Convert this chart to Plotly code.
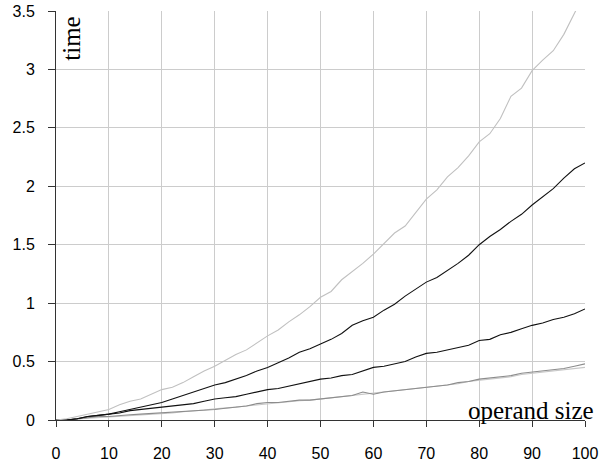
import plotly.graph_objects as go

x_vals = list(range(0, 101, 2))

s_top_light = [0, 0.01, 0.03, 0.05, 0.07, 0.09, 0.13, 0.16, 0.18, 0.22, 0.26, 0.28, 0.32, 0.37, 0.42, 0.46,
               0.51, 0.56, 0.60, 0.66, 0.72, 0.77, 0.84, 0.90, 0.97, 1.05, 1.10, 1.20, 1.27, 1.34, 1.42,
               1.51, 1.60, 1.66, 1.77, 1.89, 1.97, 2.08, 2.16, 2.26, 2.38, 2.45, 2.58, 2.77, 2.84, 2.99,
               3.08, 3.16, 3.30, 3.48, 3.66]
s_black_upper = [0, 0.0, 0.01, 0.03, 0.04, 0.05, 0.07, 0.09, 0.11, 0.13, 0.15, 0.18, 0.21, 0.24, 0.27, 0.30,
                 0.32, 0.35, 0.38, 0.42, 0.45, 0.49, 0.53, 0.58, 0.61, 0.65, 0.69, 0.74, 0.81, 0.85, 0.88,
                 0.94, 0.99, 1.06, 1.12, 1.18, 1.22, 1.28, 1.34, 1.41, 1.50, 1.57, 1.63, 1.70, 1.76, 1.84,
                 1.91, 1.98, 2.07, 2.15, 2.20]
s_black_lower = [0, 0, 0.01, 0.03, 0.04, 0.05, 0.06, 0.08, 0.09, 0.10, 0.11, 0.12, 0.13, 0.14, 0.16, 0.18,
                 0.19, 0.20, 0.22, 0.24, 0.26, 0.27, 0.29, 0.31, 0.33, 0.35, 0.36, 0.38, 0.39, 0.42, 0.45,
                 0.46, 0.48, 0.50, 0.54, 0.57, 0.58, 0.60, 0.62, 0.64, 0.68, 0.69, 0.73, 0.75, 0.78, 0.81,
                 0.83, 0.86, 0.88, 0.91, 0.95]
s_gray = [0, 0, 0.01, 0.02, 0.03, 0.03, 0.04, 0.045, 0.05, 0.055, 0.06, 0.065, 0.07, 0.075, 0.08, 0.09,
          0.10, 0.11, 0.12, 0.14, 0.15, 0.15, 0.16, 0.17, 0.17, 0.18, 0.19, 0.20, 0.21, 0.24, 0.22,
          0.24, 0.25, 0.26, 0.27, 0.28, 0.29, 0.30, 0.32, 0.33, 0.35, 0.36, 0.37, 0.38, 0.40, 0.41,
          0.42, 0.43, 0.44, 0.46, 0.48]
s_light_lower = [0, 0, 0.01, 0.015, 0.02, 0.025, 0.03, 0.04, 0.045, 0.05, 0.055, 0.06, 0.07, 0.075, 0.085, 0.095,
                 0.10, 0.11, 0.12, 0.13, 0.14, 0.15, 0.155, 0.165, 0.17, 0.18, 0.19, 0.20, 0.21, 0.22, 0.23,
                 0.24, 0.25, 0.26, 0.27, 0.28, 0.29, 0.30, 0.31, 0.33, 0.34, 0.35, 0.36, 0.37, 0.39, 0.40,
                 0.41, 0.42, 0.43, 0.44, 0.45]

x_ticks = list(range(0, 101, 10))
y_ticks = [0, 0.5, 1, 1.5, 2, 2.5, 3, 3.5]
y_tick_text = ["0", "0.5", "1", "1.5", "2", "2.5", "3", "3.5"]

series = [
    (s_light_lower, "#c8c8c8"),
    (s_gray, "#8c8c8c"),
    (s_black_lower, "#111111"),
    (s_black_upper, "#111111"),
    (s_top_light, "#c0c0c0"),
]

fig = go.Figure()
for ys, col in series:
    fig.add_trace(go.Scatter(x=x_vals, y=ys, mode="lines",
                             line=dict(color=col, width=1.1), showlegend=False,
                             hoverinfo="skip"))

tick_font = dict(family="Liberation Sans, Arial, sans-serif", size=16, color="#000000")

fig.update_layout(
    width=607, height=466,
    margin=dict(l=56, r=22, t=11, b=46),
    paper_bgcolor="white", plot_bgcolor="white",
    xaxis=dict(range=[0, 100], tickvals=x_ticks, ticks="outside", ticklen=6,
               tickcolor="#333333", showline=True, linecolor="#333333", linewidth=1,
               showgrid=True, gridcolor="#cccccc", gridwidth=1, zeroline=False,
               tickfont=tick_font, ticklabelstandoff=13, automargin=False),
    yaxis=dict(range=[0, 3.5], tickvals=y_ticks, ticktext=y_tick_text, ticks="outside", ticklen=7,
               tickcolor="#333333", showline=True, linecolor="#333333", linewidth=1,
               showgrid=True, gridcolor="#cccccc", gridwidth=1, zeroline=False,
               tickfont=tick_font, ticklabelstandoff=10, automargin=False),
    annotations=[
        dict(text="time", xref="paper", yref="paper", x=0.029, y=0.933,
             xanchor="center", yanchor="middle", textangle=-90, showarrow=False,
             font=dict(family="Liberation Serif, Times New Roman, serif", size=25, color="#000000")),
        dict(text="operand size", xref="paper", yref="paper", x=1.021, y=-0.014,
             xanchor="right", yanchor="bottom", showarrow=False,
             font=dict(family="Liberation Serif, Times New Roman, serif", size=25, color="#000000")),
    ],
)

fig.write_html("out.html")
